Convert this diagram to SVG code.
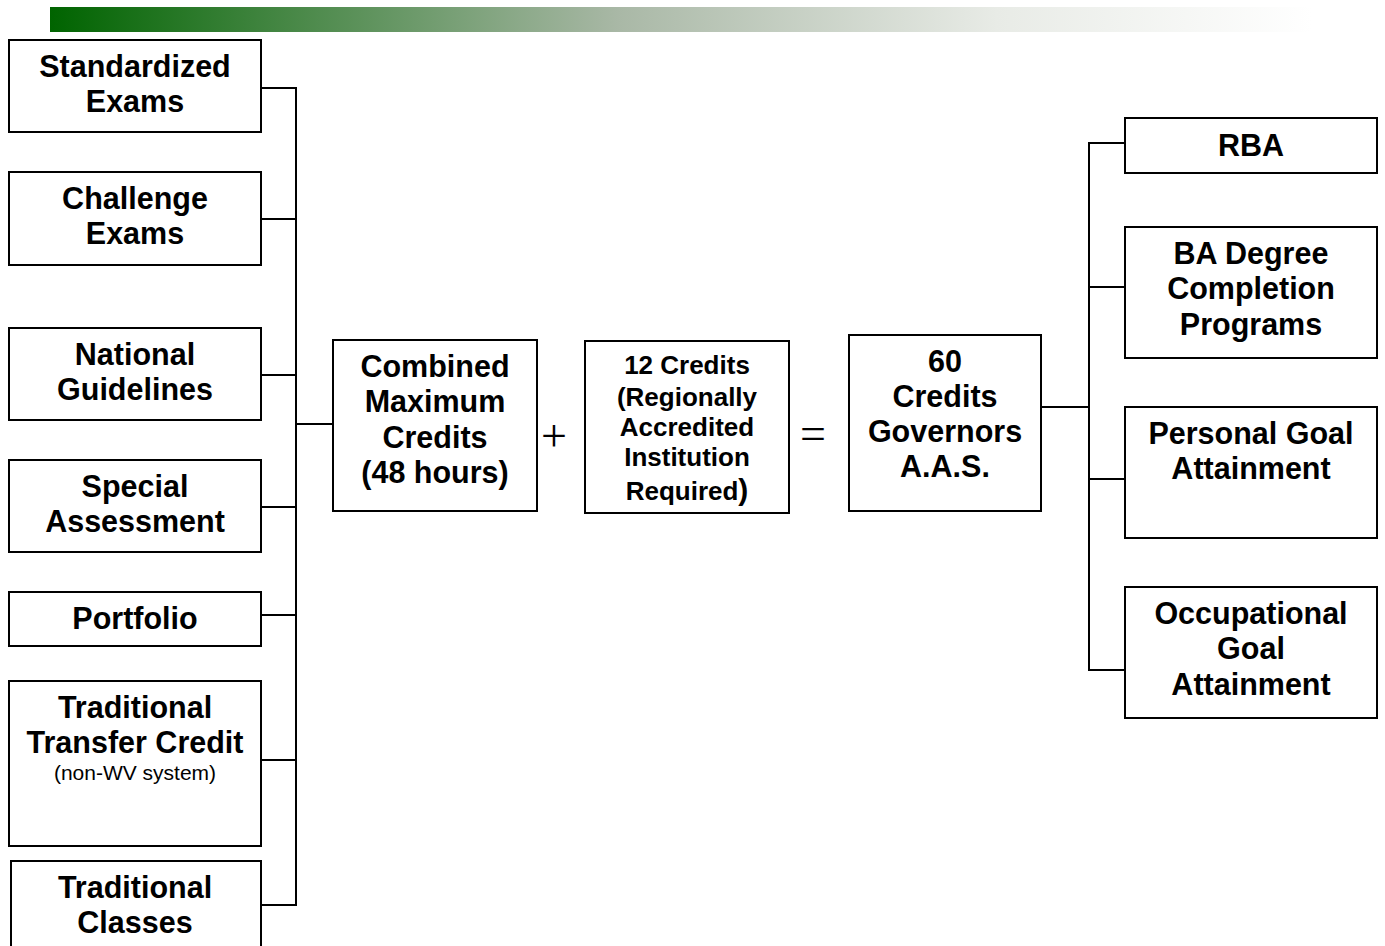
<svg xmlns="http://www.w3.org/2000/svg" width="1385" height="946" viewBox="0 0 1385 946">
<defs>
<linearGradient id="bar" x1="0" y1="0" x2="1" y2="0">
<stop offset="0" stop-color="#006400"/>
<stop offset="0.45" stop-color="#a9b8a6"/>
<stop offset="0.75" stop-color="#e8ebe6"/>
<stop offset="1" stop-color="#ffffff"/>
</linearGradient>
<style>
.box{fill:#fff;stroke:#000;stroke-width:2}
.t{font-family:"Liberation Sans",Arial,sans-serif;font-weight:bold;font-size:30.5px;text-anchor:middle;fill:#000}
.s{font-family:"Liberation Sans",Arial,sans-serif;font-weight:bold;font-size:26px;text-anchor:middle;fill:#000}
.n{font-family:"Liberation Sans",Arial,sans-serif;font-size:21px;text-anchor:middle;fill:#000}
.op{font-family:"Liberation Serif","Times New Roman",serif;font-size:46px;text-anchor:middle;fill:#000}
.c{fill:none;stroke:#000;stroke-width:2}
</style>
</defs>
<rect x="50" y="7" width="1262" height="25" fill="url(#bar)"/>
<g id="connectors">
<path class="c" d="M261 88H296M261 219H296M261 375H296M261 507H296M261 615H296M261 760H296M261 905H296M296 87V906M296 424H333"/>
<path class="c" d="M1041 407H1089M1089 142V671M1089 143H1125M1089 287H1125M1089 479H1125M1089 670H1125"/>
</g>
<g id="standardized"><rect class="box" x="9" y="40" width="252" height="92"/><text class="t" x="135" y="77">Standardized</text><text class="t" x="135" y="112">Exams</text></g>
<g id="challenge"><rect class="box" x="9" y="172" width="252" height="93"/><text class="t" x="135" y="209">Challenge</text><text class="t" x="135" y="244">Exams</text></g>
<g id="national"><rect class="box" x="9" y="328" width="252" height="92"/><text class="t" x="135" y="365">National</text><text class="t" x="135" y="400">Guidelines</text></g>
<g id="special"><rect class="box" x="9" y="460" width="252" height="92"/><text class="t" x="135" y="497">Special</text><text class="t" x="135" y="532">Assessment</text></g>
<g id="portfolio"><rect class="box" x="9" y="592" width="252" height="54"/><text class="t" x="135" y="629">Portfolio</text></g>
<g id="transfer"><rect class="box" x="9" y="681" width="252" height="165"/><text class="t" x="135" y="718">Traditional</text><text class="t" x="135" y="753">Transfer Credit</text><text class="n" x="135" y="780">(non-WV system)</text></g>
<g id="classes"><rect class="box" x="11" y="861" width="250" height="100"/><text class="t" x="135" y="898">Traditional</text><text class="t" x="135" y="933">Classes</text></g>
<g id="combined"><rect class="box" x="333" y="340" width="204" height="171"/><text class="t" x="435" y="377">Combined</text><text class="t" x="435" y="412">Maximum</text><text class="t" x="435" y="448">Credits</text><text class="t" x="435" y="483">(48 hours)</text></g>
<text class="op" x="554" y="451">+</text>
<g id="twelve"><rect class="box" x="585" y="341" width="204" height="172"/><text class="s" x="687" y="374">12 Credits</text><text class="s" x="687" y="406">(Regionally</text><text class="s" x="687" y="436">Accredited</text><text class="s" x="687" y="466">Institution</text><text class="s" x="687" y="500">Required<tspan font-size="30px">)</tspan></text></g>
<text class="op" x="813" y="449">=</text>
<g id="sixty"><rect class="box" x="849" y="335" width="192" height="176"/><text class="t" x="945" y="372">60</text><text class="t" x="945" y="407">Credits</text><text class="t" x="945" y="442">Governors</text><text class="t" x="945" y="477">A.A.S.</text></g>
<g id="rba"><rect class="box" x="1125" y="118" width="252" height="55"/><text class="t" x="1251" y="156">RBA</text></g>
<g id="ba"><rect class="box" x="1125" y="227" width="252" height="131"/><text class="t" x="1251" y="264">BA Degree</text><text class="t" x="1251" y="299">Completion</text><text class="t" x="1251" y="335">Programs</text></g>
<g id="personal"><rect class="box" x="1125" y="407" width="252" height="131"/><text class="t" x="1251" y="444">Personal Goal</text><text class="t" x="1251" y="479">Attainment</text></g>
<g id="occupational"><rect class="box" x="1125" y="587" width="252" height="131"/><text class="t" x="1251" y="624">Occupational</text><text class="t" x="1251" y="659">Goal</text><text class="t" x="1251" y="695">Attainment</text></g>
</svg>
